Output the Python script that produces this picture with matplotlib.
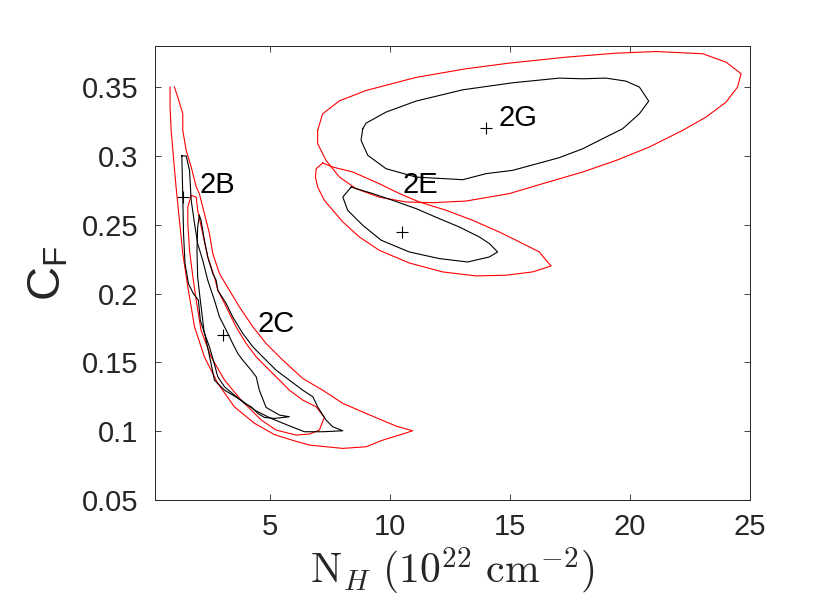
import numpy as np
import matplotlib
matplotlib.use('Agg')
import matplotlib.pyplot as plt
from matplotlib.ticker import FuncFormatter

plt.rcParams['font.family'] = ['Liberation Sans', 'DejaVu Sans']
plt.rcParams['mathtext.fontset'] = 'custom'
plt.rcParams['mathtext.rm'] = 'Liberation Sans'
plt.rcParams['mathtext.it'] = 'Liberation Sans:italic'

# confidence contours, N_H (1e22 cm^-2) vs C_F
# 2G
g_red_x = [6.98, 7.19, 7.89, 9.0, 11.08, 13.17, 14.97, 17.33, 19.42, 21.08, 23.03, 24.0, 24.63,
           24.48, 24.0, 23.17, 22.19, 20.8, 19.42, 18.03, 16.36, 14.97, 13.17, 11.78, 10.67, 9.55,
           8.58, 7.89, 7.33, 6.98]
g_red_y = [0.3185, 0.3306, 0.340, 0.3475, 0.357, 0.3633, 0.3674, 0.3717, 0.3746, 0.3758, 0.3742,
           0.3681, 0.3597, 0.350, 0.339, 0.3282, 0.3185, 0.3064, 0.2967, 0.2883, 0.2798, 0.2726,
           0.2672, 0.266, 0.2665, 0.270, 0.2762, 0.2846, 0.2967, 0.3089]
g_blk_x = [8.86, 8.79, 9.07, 9.83, 11.08, 13.03, 14.0, 15.11, 17.05, 18.03, 19.0, 19.69, 20.39,
           20.78, 20.39, 19.83, 19.0, 18.03, 17.05, 15.11, 13.03, 11.08, 9.83, 9.0]
g_blk_y = [0.3197, 0.3113, 0.3004, 0.2907, 0.2846, 0.2827, 0.2871, 0.2895, 0.2987, 0.3052, 0.3137,
           0.3197, 0.3306, 0.3398, 0.350, 0.3543, 0.3565, 0.356, 0.3565, 0.3531, 0.348, 0.3398,
           0.3318, 0.3238]

# 2E
e_red_x = [7.19, 6.92, 6.89, 6.98, 7.26, 8.03, 8.72, 9.55, 10.8, 12.19, 13.58, 14.83, 15.94, 16.71,
           16.5, 16.22, 15.39, 14.55, 13.44, 12.33, 11.22, 10.39, 9.55, 8.44, 7.61]
e_red_y = [0.2948, 0.2907, 0.2846, 0.2774, 0.2677, 0.252, 0.2411, 0.2314, 0.2222, 0.2157, 0.2128,
           0.2133, 0.2157, 0.2200, 0.2242, 0.2302, 0.2375, 0.2447, 0.2532, 0.2605, 0.2665, 0.2726,
           0.2798, 0.2883, 0.2919]
e_blk_x = [8.38, 8.03, 8.23, 8.86, 9.63, 10.8, 12.05, 13.23, 14.14, 14.48, 14.14, 13.72, 12.89,
           12.05, 11.08, 10.11, 9.28, 8.72]
e_blk_y = [0.2774, 0.2701, 0.2605, 0.2496, 0.2387, 0.2302, 0.2254, 0.2229, 0.2266, 0.2302, 0.2363,
           0.2411, 0.2483, 0.2544, 0.2617, 0.2677, 0.2726, 0.2755]

# 2B (outer one is cut at the top of the grid, so it stays open)
b_red_x = [0.83, 0.83, 0.875, 0.97, 1.08, 1.22, 1.36, 1.57, 1.85, 2.26, 2.82, 3.51, 4.35, 5.18,
           6.01, 6.64, 8.03, 9.0, 9.69, 10.39, 10.94, 10.25, 9.0, 8.03, 7.19, 6.36, 5.53, 4.83, 4.28,
           3.72, 3.30, 2.89, 2.61, 2.47, 2.26, 2.05, 1.92, 1.71, 1.5, 1.36, 1.36, 1.15, 1.01]
b_red_y = [0.350, 0.3354, 0.3185, 0.2991, 0.2774, 0.2532, 0.229, 0.2048, 0.1758, 0.154, 0.1347,
           0.1177, 0.1057, 0.0975, 0.093, 0.0899, 0.0875, 0.0887, 0.0935, 0.0972, 0.1003, 0.1037,
           0.1129, 0.1202, 0.1298, 0.1383, 0.1516, 0.1637, 0.1758, 0.1903, 0.2024, 0.2145, 0.229,
           0.2436, 0.2581, 0.2726, 0.2774, 0.2919, 0.304, 0.3185, 0.3306, 0.3427, 0.350]
b_blk_x = [1.32, 1.36, 1.39, 1.45, 1.6, 1.8, 2.01, 2.09, 2.26, 2.47, 2.65, 2.82, 3.1, 3.51, 3.93,
           4.21, 4.49, 4.76, 5.18, 5.80, 5.39, 4.83, 4.55, 4.42, 4.21, 3.86, 3.65, 3.44, 3.17,
           2.89, 2.68, 2.54, 2.4, 2.19, 1.98, 1.85, 1.71, 1.64, 1.5]
b_blk_y = [0.300, 0.270, 0.244, 0.222, 0.207, 0.2, 0.1951, 0.1806, 0.1714, 0.1613, 0.1504, 0.1395,
           0.1322, 0.1262, 0.1202, 0.1177, 0.1129, 0.11, 0.1093, 0.1105, 0.1117, 0.1173, 0.1298,
           0.1395, 0.1443, 0.1516, 0.1565, 0.1637, 0.1734, 0.183, 0.1951, 0.2024, 0.2097, 0.2242,
           0.2363, 0.2508, 0.2677, 0.2895, 0.300]

# 2C
c_red_x = [1.71, 1.57, 1.57, 1.64, 1.78, 1.92, 2.12, 2.54, 3.1, 3.79, 4.63, 5.25, 6.08, 6.64,
           7.05, 7.26, 6.92, 6.36, 5.80, 5.39, 4.97, 4.42, 4.0, 3.58, 3.17, 2.82, 2.68, 2.4, 2.19,
           1.98, 1.92]
c_red_y = [0.2713, 0.263, 0.2508, 0.2314, 0.212, 0.1951, 0.1734, 0.154, 0.1371, 0.1226, 0.1081,
           0.1008, 0.0972, 0.0979, 0.1008, 0.110, 0.1177, 0.1226, 0.1298, 0.1371, 0.1443, 0.154,
           0.1637, 0.1758, 0.1903, 0.2024, 0.212, 0.2266, 0.2436, 0.2605, 0.270]
c_blk_x = [2.05, 1.98, 1.95, 1.98, 2.07, 2.14, 2.24, 2.42, 2.68, 3.1, 3.79, 4.35, 5.04, 5.73,
           6.43, 7.19, 8.03, 7.61, 7.33, 6.98, 6.78, 6.36, 5.80, 5.25, 4.83, 4.28,
           3.86, 3.44, 3.17, 2.82, 2.75, 2.61, 2.4, 2.26, 2.12]
c_blk_y = [0.2568, 0.2483, 0.231, 0.212, 0.198, 0.1879, 0.1734, 0.1589, 0.1371, 0.1298, 0.1226,
           0.1153, 0.1093, 0.1044, 0.0996, 0.0996, 0.1003, 0.1032, 0.1081, 0.1177, 0.125, 0.1298,
           0.1371, 0.1443, 0.1516, 0.1613, 0.171, 0.183, 0.1927, 0.2024, 0.2097, 0.2145, 0.2266,
           0.2387, 0.2532]

# best fits and labels
fit_names = ['2B', '2C', '2E', '2G']
fit_x = [1.35, 3.03, 10.5, 14.0]
fit_y = [0.27, 0.17, 0.245, 0.32]
label_x = [2.04, 4.49, 10.53, 14.53]
label_y = [0.273, 0.172, 0.273, 0.322]


def closed(x, y):
    return np.append(x, x[0]), np.append(y, y[0])


fig = plt.figure(figsize=(8.3, 6.02), dpi=100)
ax = fig.add_axes([0.1867, 0.1694, 0.7169, 0.7546])

for xs, ys in [(g_red_x, g_red_y), (e_red_x, e_red_y), (c_red_x, c_red_y)]:
    ax.plot(*closed(xs, ys), color='red', lw=0.8)
ax.plot(b_red_x, b_red_y, color='red', lw=0.8)
for xs, ys in [(g_blk_x, g_blk_y), (e_blk_x, e_blk_y), (b_blk_x, b_blk_y), (c_blk_x, c_blk_y)]:
    ax.plot(*closed(xs, ys), color='black', lw=0.8)

ax.plot(fit_x, fit_y, '+', color='black', ms=9, mew=0.8, ls='none')
for name, tx, ty in zip(fit_names, label_x, label_y):
    ax.text(tx, ty, name, fontsize=21, ha='left', va='baseline')

ax.set_xlim(0.2, 25)
ax.set_ylim(0.05, 0.38)
ax.set_xticks([5, 10, 15, 20, 25])
ax.set_yticks([0.05, 0.1, 0.15, 0.2, 0.25, 0.3, 0.35])
ax.yaxis.set_major_formatter(FuncFormatter(lambda v, p: '%g' % v))
ax.tick_params(direction='in', length=4.3, width=0.6, colors='#262626',
               labelsize=21, top=True, right=True)
ax.tick_params(axis='x', pad=9)
ax.tick_params(axis='y', pad=12)
for s in ax.spines.values():
    s.set_color('#262626')
    s.set_linewidth(0.7)

ax.set_xlabel(r'$\mathrm{N}_H\ (10^{22}\ \mathrm{cm}^{-2})$', fontsize=30,
              math_fontfamily='cm', color='#262626', labelpad=4)
ax.set_ylabel(r'$\mathrm{C_F}$', fontsize=34, color='#262626', labelpad=8)

fig.savefig('out.png', dpi=100)
